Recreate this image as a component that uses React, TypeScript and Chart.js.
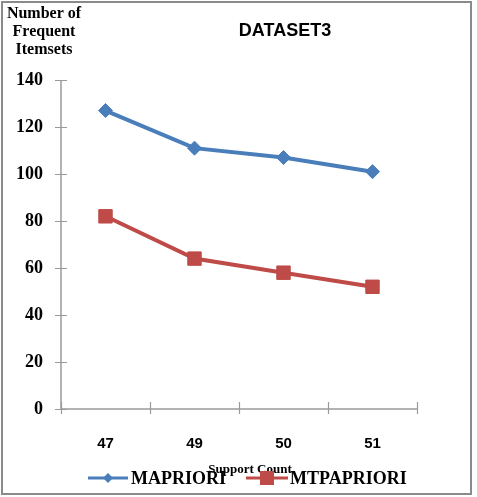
import React, { useEffect, useRef } from "react";
import { Chart, registerables } from "chart.js";

Chart.register(...registerables);

// Support count categories along the x axis
const supportCounts = ["47", "49", "50", "51"];
// Number of frequent itemsets found by each algorithm
const mapriori = [127, 111, 107, 101];
const mtpapriori = [82, 64, 58, 52];

const chartTitle = "DATASET3";
const yTitleLines = ["Number of", "Frequent", "Itemsets"];
const xTitle = "Support Count";

const BLUE = "#4a7ebb";
const RED = "#be4b48";
const AXIS = "#9a9a9a";

const W = 477;
const H = 497;

// Draws the frame, texts, cross tick marks and the legend around the plot.
const decorations = {
  id: "decorations",
  beforeDraw(chart: any) {
    const ctx = chart.ctx;
    ctx.save();
    ctx.fillStyle = "#ffffff";
    ctx.fillRect(0, 0, W, H);
    ctx.restore();
  },
  afterDraw(chart: any) {
    const ctx = chart.ctx;
    const area = chart.chartArea;
    const xs = chart.scales.x;
    const ys = chart.scales.y;
    ctx.save();

    // outer frame
    ctx.strokeStyle = "#8a8a8a";
    ctx.lineWidth = 2;
    ctx.strokeRect(2, 2, 469, 492);

    // axes lines and crossing tick marks
    ctx.strokeStyle = AXIS;
    ctx.lineWidth = 1.5;
    ctx.beginPath();
    ctx.moveTo(area.left, area.top);
    ctx.lineTo(area.left, area.bottom);
    ctx.lineTo(area.right, area.bottom);
    ctx.stroke();
    ctx.lineWidth = 1.2;
    ctx.beginPath();
    ys.ticks.forEach((t: any) => {
      const y = Math.round(ys.getPixelForValue(t.value)) + 0.5;
      ctx.moveTo(area.left - 6, y);
      ctx.lineTo(area.left + 6, y);
    });
    const half = (xs.getPixelForValue(1) - xs.getPixelForValue(0)) / 2;
    for (let i = 0; i <= supportCounts.length; i++) {
      const x = Math.round(xs.getPixelForValue(i) - half) + 0.5;
      ctx.moveTo(x, area.bottom - 7);
      ctx.lineTo(x, area.bottom + 5);
    }
    ctx.stroke();

    // chart title
    ctx.fillStyle = "#000";
    ctx.font = "bold 18px 'Liberation Sans', Arial, sans-serif";
    ctx.textAlign = "center";
    ctx.textBaseline = "middle";
    ctx.fillText(chartTitle, 285, 31);

    // y axis title, stacked in the corner
    ctx.font = "bold 16px 'Liberation Serif', 'Times New Roman', serif";
    const ty = [14, 32, 50];
    yTitleLines.forEach((line, i) => ctx.fillText(line, 44, ty[i]));

    // x axis title, partly covered by the legend
    ctx.font = "bold 13px 'Liberation Serif', 'Times New Roman', serif";
    ctx.fillText(xTitle, 250, 470);

    // legend
    const ly = 478;
    const items = [
      { x0: 88, x1: 128, tx: 131, m: 5 },
      { x0: 246, x1: 288, tx: 290, m: 7 },
    ];
    chart.data.datasets.forEach((ds: any, i: number) => {
      const it = items[i];
      ctx.strokeStyle = ds.borderColor;
      ctx.lineWidth = 3;
      ctx.beginPath();
      ctx.moveTo(it.x0, ly);
      ctx.lineTo(it.x1, ly);
      ctx.stroke();
      ctx.fillStyle = ds.pointBackgroundColor;
      const cx = (it.x0 + it.x1) / 2;
      if (ds.pointStyle === "rectRot") {
        ctx.beginPath();
        ctx.moveTo(cx, ly - it.m);
        ctx.lineTo(cx + it.m, ly);
        ctx.lineTo(cx, ly + it.m);
        ctx.lineTo(cx - it.m, ly);
        ctx.closePath();
        ctx.fill();
      } else {
        ctx.fillRect(cx - it.m, ly - it.m, it.m * 2, it.m * 2);
      }
      ctx.fillStyle = "#000";
      ctx.font = "bold 18px 'Liberation Serif', 'Times New Roman', serif";
      ctx.textAlign = "left";
      ctx.fillText(ds.label, it.tx, ly + 1);
    });

    ctx.restore();
  },
};

export default function App() {
  const ref = useRef<HTMLCanvasElement | null>(null);

  useEffect(() => {
    if (!ref.current) return;
    const chart = new Chart(ref.current, {
      type: "line",
      data: {
        labels: supportCounts,
        datasets: [
          {
            label: "MAPRIORI",
            data: mapriori,
            borderColor: BLUE,
            backgroundColor: BLUE,
            pointBackgroundColor: BLUE,
            pointBorderColor: BLUE,
            borderWidth: 4,
            pointStyle: "rectRot",
            pointRadius: 7,
            pointBorderWidth: 1,
            tension: 0,
          },
          {
            label: "MTPAPRIORI",
            data: mtpapriori,
            borderColor: RED,
            backgroundColor: RED,
            pointBackgroundColor: RED,
            pointBorderColor: RED,
            borderWidth: 4,
            pointStyle: "rect",
            pointRadius: 9.5,
            pointBorderWidth: 1,
            tension: 0,
          },
        ],
      },
      options: {
        responsive: false,
        animation: false,
        layout: { padding: { top: 80, right: 60, left: 0, bottom: 0 } },
        plugins: {
          legend: { display: false },
          title: { display: false },
          tooltip: { enabled: false },
        },
        scales: {
          x: {
            type: "category",
            offset: true,
            grid: { display: false, drawTicks: false },
            border: { display: false },
            ticks: {
              padding: 26,
              color: "#000",
              font: { family: "'Liberation Sans', Arial, sans-serif", size: 15, weight: "bold" },
            },
            afterFit: (s: any) => {
              s.height = 88;
            },
          },
          y: {
            min: 0,
            max: 140,
            grid: { display: false, drawTicks: false },
            border: { display: false },
            ticks: {
              stepSize: 20,
              padding: 18,
              color: "#000",
              font: { family: "'Liberation Serif', 'Times New Roman', serif", size: 18, weight: "bold" },
            },
            afterFit: (s: any) => {
              s.width = 61;
            },
          },
        },
      },
      plugins: [decorations],
    });
    return () => chart.destroy();
  }, []);

  return (
    <div style={{ position: "fixed", left: 0, top: 0, width: W, height: H, background: "#fff" }}>
      <canvas ref={ref} width={W} height={H} style={{ display: "block", width: W, height: H }} />
    </div>
  );
}
